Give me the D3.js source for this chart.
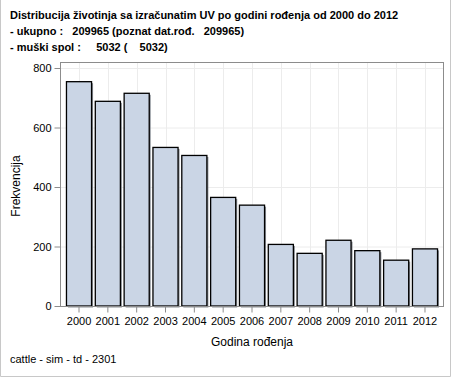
<!DOCTYPE html>
<html>
<head>
<meta charset="utf-8">
<script src="https://cdn.jsdelivr.net/npm/d3@7"></script>
<style>
  body { margin: 0; background: #fff; }
  svg text { font-family: "Liberation Sans", Arial, sans-serif; }
</style>
</head>
<body>
<div class="d3_content"></div>
<script>
// chart data
const years = ["2000", "2001", "2002", "2003", "2004", "2005", "2006", "2007", "2008", "2009", "2010", "2011", "2012"];
const counts = [754, 688, 715, 533, 506, 365, 339, 207, 177, 221, 186, 154, 192];
const y_ticks = [0, 200, 400, 600, 800];
const title_lines = [
  "Distribucija životinja sa izračunatim UV po godini rođenja od 2000 do 2012",
  "- ukupno :   209965 (poznat dat.rođ.   209965)",
  "- muški spol :     5032 (    5032)"
];

frame = { width: 454, height: 378, left: 60, right: 443.5, top: 62, bottom: 306 }

const svg = d3.select(".d3_content").append("svg")
  .attr("width", frame.width)
  .attr("height", frame.height);

// outer border
svg.append("path")
  .attr("d", "M0.5,0 V376.5 H450.5 V0")
  .style("fill", "none")
  .style("stroke", "#c8c8c8");

var x = d3.scaleBand().domain(years).range([64.6, 439.4]).paddingInner(0.13).paddingOuter(0.065);
var y = d3.scaleLinear().domain([0, 800]).range([306, 68]);

// grid
svg.append("g").selectAll("line.h")
  .data(y_ticks.filter(t => t > 0))
  .join("line")
  .attr("x1", frame.left).attr("x2", frame.right)
  .attr("y1", d => y(d) + 0.5).attr("y2", d => y(d) + 0.5)
  .style("stroke", "#ececec");
svg.append("g").selectAll("line.v")
  .data(years)
  .join("line")
  .attr("x1", d => Math.round(x(d) + x.bandwidth() / 2) + 0.5)
  .attr("x2", d => Math.round(x(d) + x.bandwidth() / 2) + 0.5)
  .attr("y1", frame.top).attr("y2", frame.bottom)
  .style("stroke", "#ececec");

// shadows
svg.append("g").selectAll("rect")
  .data(counts)
  .join("rect")
  .attr("x", (d, i) => x(years[i]) + 1.5)
  .attr("y", d => y(d) + 1.5)
  .attr("width", x.bandwidth())
  .attr("height", d => 306 - y(d))
  .style("fill", "#8a8f96");

//bars
svg.append("g").selectAll("rect")
  .data(counts)
  .join("rect")
  .attr("x", (d, i) => x(years[i]))
  .attr("y", d => y(d))
  .attr("width", x.bandwidth())
  .attr("height", d => 306 - y(d))
  .style("fill", "#cad5e5")
  .style("stroke", "#000")
  .style("stroke-width", 1.3);

// frame
svg.append("rect")
  .attr("x", frame.left + 0.5).attr("y", frame.top + 0.5)
  .attr("width", frame.right - frame.left - 0.5)
  .attr("height", frame.bottom - frame.top)
  .style("fill", "none")
  .style("stroke", "#8c8c8c");

// y axis
const yAxis = svg.append("g")
  .attr("transform", `translate(${frame.left + 0.5},0)`)
  .call(d3.axisLeft(y).tickValues(y_ticks).tickSize(6).tickPadding(3));
yAxis.select(".domain").remove();
yAxis.selectAll("line").style("stroke", "#8c8c8c");
yAxis.selectAll("text").style("font-size", "11px").style("fill", "#000")
  .style("font-family", "Liberation Sans, Arial, sans-serif");

// x axis
const xAxis = svg.append("g")
  .attr("transform", `translate(0,${frame.bottom + 0.5})`)
  .call(d3.axisBottom(x).tickSize(6).tickPadding(5));
xAxis.select(".domain").remove();
xAxis.selectAll("line").style("stroke", "#8c8c8c");
xAxis.selectAll("text").style("font-size", "11px").style("fill", "#000")
  .style("font-family", "Liberation Sans, Arial, sans-serif");

// axis labels
svg.append("text").text("Godina rođenja")
  .attr("x", 252).attr("y", 346)
  .attr("text-anchor", "middle")
  .style("font-size", "12px");
svg.append("text").text("Frekvencija")
  .attr("transform", "translate(20,186) rotate(-90)")
  .attr("text-anchor", "middle")
  .style("font-size", "12px");

// title
svg.append("g").selectAll("text")
  .data(title_lines)
  .join("text")
  .attr("x", 10)
  .attr("y", (d, i) => 19 + i * 16)
  .attr("xml:space", "preserve")
  .style("white-space", "pre")
  .style("font-size", "11px")
  .style("font-weight", "bold")
  .text(d => d);

// footnote
svg.append("text").text("cattle - sim - td - 2301")
  .attr("x", 10).attr("y", 363)
  .style("font-size", "11px");
</script>
</body>
</html>
